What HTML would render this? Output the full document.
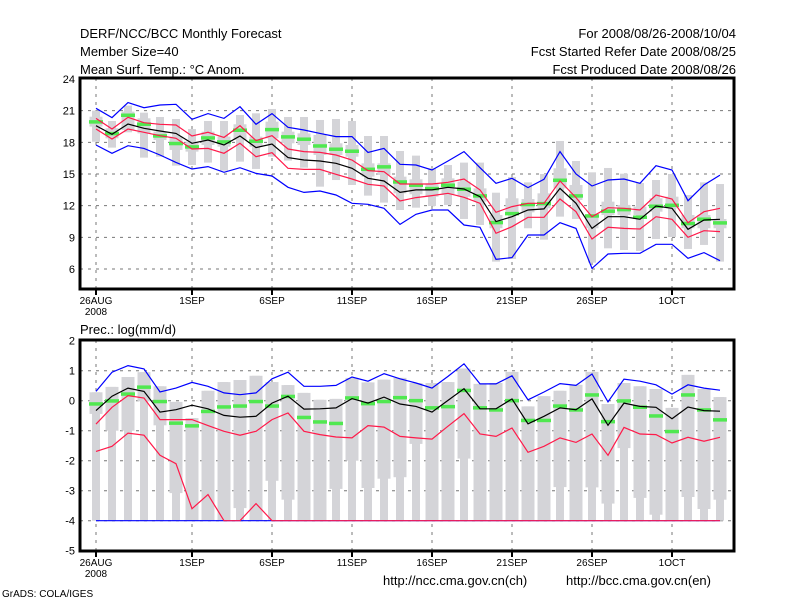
<!DOCTYPE html>
<html><head><meta charset="utf-8"><style>
body{margin:0;background:#fff;}
svg{display:block;font-family:"Liberation Sans",sans-serif;}
</style></head><body>
<svg id="c" width="800" height="600" xmlns="http://www.w3.org/2000/svg">
<rect width="800" height="600" fill="#fff"/>
<g font-size="13" fill="#000">
<text x="80" y="38">DERF/NCC/BCC Monthly Forecast</text>
<text x="80" y="56">Member Size=40</text>
<text x="80" y="74">Mean Surf. Temp.: °C Anom.</text>
<text x="736" y="38" text-anchor="end">For 2008/08/26-2008/10/04</text>
<text x="736" y="56" text-anchor="end">Fcst Started Refer Date 2008/08/25</text>
<text x="736" y="74" text-anchor="end">Fcst Produced Date 2008/08/26</text>
<text x="80" y="334">Prec.: log(mm/d)</text>
<text x="383" y="585">http://ncc.cma.gov.cn(ch)</text>
<text x="566" y="585">http://bcc.cma.gov.cn(en)</text>
<text x="2" y="597" font-size="10">GrADS: COLA/IGES</text>
</g>
<g id="top"></g>
<g id="bot"></g>
</svg>
<script>
const dayTicks = [0,6,11,16,21,26,31,36];
const dayLabels = ["26AUG","1SEP","6SEP","11SEP","16SEP","21SEP","26SEP","1OCT"];
const tTicks = [24,21,18,15,12,9,6];
const pTicks = [2,1,0,-1,-2,-3,-4,-5];

const tMax = [21.22,20.34,21.76,21.28,21.54,21.6,20.18,20.72,20.27,21.38,19.71,20.72,19.42,19.17,18.85,18.54,18.54,17.05,17.43,15.92,15.85,15.38,16.23,17.12,15.6,14.12,14.59,13.71,14.5,17.12,15.0,13.86,14.43,14.53,14.12,15.79,15.38,12.47,13.96,14.9];
const tMin = [17.75,16.96,17.68,17.43,16.8,16.1,15.47,15.7,15.16,15.6,15.06,14.81,13.74,13.26,13.39,13.01,12.22,12.13,11.75,10.23,11.18,11.59,11.59,10.17,9.95,6.92,7.08,9.22,9.22,10.39,9.85,6.06,7.42,7.49,7.49,8.34,8.34,7.01,7.55,6.79];
const tMean = [19.58,18.76,19.74,19.33,19.07,18.85,17.91,18.22,17.75,18.6,17.5,17.84,16.55,16.33,16.23,16.01,15.54,14.59,14.34,13.26,13.49,13.49,13.74,13.58,12.85,10.49,10.96,11.59,11.69,13.64,12.22,9.85,10.96,10.96,10.71,11.97,11.75,9.76,10.64,10.71];
const tUp = [20.27,19.26,20.37,19.86,19.71,19.64,18.6,18.95,18.47,19.58,18.16,18.63,17.37,17.12,17.05,16.8,16.33,15.32,15.22,14.05,14.05,14.05,14.21,14.53,13.49,11.37,11.91,12.22,12.22,14.34,12.76,10.96,11.81,11.75,11.59,13.01,12.63,10.39,11.43,11.75];
const tLo = [19.26,18.32,19.26,18.95,18.63,18.38,17.37,17.43,16.96,17.91,16.64,17.02,15.54,15.44,15.44,14.97,14.53,14.02,13.86,12.44,12.76,12.95,13.17,12.79,12.22,9.38,10.01,10.9,10.9,12.63,11.43,8.84,9.95,9.85,9.79,10.96,10.71,9.0,9.63,9.54];
const tMed = [19.96,18.85,20.59,19.74,18.63,17.91,17.59,18.44,18.06,19.17,18.13,19.23,18.54,18.32,17.68,17.37,17.18,15.47,15.7,14.27,13.96,13.64,13.96,13.58,12.95,10.42,11.27,12.13,12.22,14.43,12.95,11.05,11.5,11.65,10.93,11.97,12.06,10.33,10.74,10.39];
const tBoxMax = [21.0,20.02,21.48,20.81,20.4,20.21,19.26,20.02,20.02,20.59,20.75,21.16,20.4,20.4,20.12,20.21,20.02,18.6,18.6,17.18,16.74,15.54,15.85,16.08,16.08,13.23,14.72,14.21,15.0,18.13,16.23,15.16,15.57,15.03,14.15,14.43,15.0,13.01,14.21,14.05];
const tBoxQ3 = [20.43,19.33,20.91,20.28,19.01,18.54,18.06,19.01,18.54,19.71,18.54,19.96,19.01,18.85,18.7,17.91,17.75,16.01,16.01,14.75,14.5,14.12,14.59,14.28,13.64,11.12,12.7,12.63,13.17,15.54,13.96,10.96,12.38,12.07,11.91,12.7,12.85,11.12,11.12,10.74];
const tBoxQ1 = [19.49,18.38,19.17,18.85,18.22,17.28,17.12,17.75,17.59,18.22,17.59,18.38,17.91,17.75,16.8,16.8,16.64,14.75,14.91,13.17,13.08,12.85,13.01,12.85,12.38,9.86,11.12,11.37,11.75,13.64,12.54,9.86,11.12,11.12,11.12,11.43,11.75,9.86,9.86,9.86];
const tBoxMin = [18.06,17.5,18.95,16.55,16.64,15.79,15.85,16.08,15.32,16.17,15.48,16.64,16.27,15.6,13.8,14.43,13.96,12.95,12.29,11.59,11.81,11.97,12.07,10.74,10.17,6.7,6.95,9.86,8.78,10.96,10.74,6.6,7.96,7.8,7.71,8.84,9.03,7.9,8.28,6.7];

const pMax = [0.31,0.95,1.17,1.06,0.29,0.42,0.61,0.48,0.26,0.2,0.26,0.73,0.95,0.48,0.48,0.51,0.79,0.65,0.9,0.73,0.59,0.42,0.81,1.23,0.56,0.56,0.83,0.03,0.29,0.57,0.51,0.89,-0.04,0.72,0.65,0.53,0.22,0.53,0.42,0.35];
const pMin = [-4,-4,-4,-4,-4,-4,-4,-4,-4,-4,-4,-4,-4,-4,-4,-4,-4,-4,-4,-4,-4,-4,-4,-4,-4,-4,-4,-4,-4,-4,-4,-4,-4,-4,-4,-4,-4,-4,-4,-4];
const pMean = [-0.33,0.15,0.42,0.31,-0.38,-0.3,-0.15,-0.27,-0.49,-0.55,-0.52,-0.08,0.15,-0.28,-0.27,-0.24,0.07,-0.08,0.12,-0.11,-0.19,-0.38,0.01,0.4,-0.27,-0.27,0.06,-0.77,-0.52,-0.24,-0.3,0.06,-0.82,-0.08,-0.19,-0.22,-0.6,-0.21,-0.33,-0.35];
const pUp = [-0.78,-0.22,0.17,0.09,-0.63,-0.63,-0.63,-0.83,-1.02,-1.15,-1.02,-0.63,-0.41,-1.02,-1.13,-1.21,-1.24,-0.83,-0.88,-1.19,-1.24,-1.28,-0.85,-0.43,-1.11,-1.19,-0.91,-1.72,-1.52,-1.24,-1.39,-1.11,-1.82,-0.89,-1.11,-1.13,-1.41,-1.22,-1.35,-1.22];
const pLo = [-1.69,-1.52,-1.08,-1.15,-1.82,-2.1,-3.6,-3.13,-4,-4,-3.43,-4,-4,-4,-4,-4,-4,-4,-4,-4,-4,-4,-4,-4,-4,-4,-4,-4,-4,-4,-4,-4,-4,-4,-4,-4,-4,-4,-4,-4];
const pMed = [-0.1,0.0,0.23,0.46,-0.02,-0.74,-0.83,-0.35,-0.2,-0.17,-0.02,-0.17,0.15,-0.55,-0.7,-0.75,0.1,-0.09,-0.02,0.11,0.01,-0.23,-0.19,0.35,-0.23,-0.3,0.01,-0.65,-0.65,-0.17,-0.3,0.2,-0.69,0.0,-0.21,-0.5,-1.02,0.2,-0.3,-0.63];
const pBoxMax = [0.28,0.46,0.79,0.95,0.48,-0.04,-0.58,0.33,0.62,0.69,0.83,0.62,0.52,0.26,0.03,0.06,0.76,0.61,0.7,0.76,0.59,0.59,0.62,1.07,0.56,0.59,0.96,-0.19,0.15,0.33,0.53,0.96,-0.11,0.59,0.48,0.39,-0.24,0.86,0.39,0.12];
const pBoxQ1 = [-0.44,-1.0,-1.0,-0.02,-0.82,-3.08,-4,-4,-4,-3.58,-4,-2.67,-3.3,-4,-4,-2.94,-2.0,-2.91,-2.6,-2.55,-1.44,-4,-4,-1.93,-4,-4,-4,-4,-4,-2.88,-4,-2.89,-3.43,-1.58,-3.24,-3.8,-4,-3.21,-3.61,-3.3];
const pBoxMin = [-4,-4,-4,-4,-4,-4,-4,-4,-4,-4,-4,-4,-4,-4,-4,-4,-4,-4,-4,-4,-4,-4,-4,-4,-4,-4,-4,-4,-4,-4,-4,-4,-4,-4,-4,-4,-4,-4,-4,-4];

const NS = "http://www.w3.org/2000/svg";
const L = 80, R = 734;
function xS(i){ return 96 + 16*i; }
function yT(v){ return 79 + (24 - v) * 10.556; }
function yB(v){ return 400.7 - 30 * v; }
function mk(parent, tag, attrs){
  const e = document.createElementNS(NS, tag);
  for (const k in attrs) e.setAttribute(k, attrs[k]);
  parent.appendChild(e);
  return e;
}
function panel(g, top, bot, yS, ticks, vmin){
  ticks.forEach(t => {
    const y = yS(t);
    if (y > top + 2 && y < bot - 2) {
      const gl = mk(g, 'line', {x1:L, x2:R, y1:y, y2:y, stroke:'#777', 'stroke-dasharray':'3,5'});
      
      
    }
    const tl = mk(g, 'text', {x:L-5, y:y+4, 'text-anchor':'end', 'font-size':'11'});
    tl.textContent = t;
    
    
  });
  dayTicks.forEach((d, k) => {
    const x = xS(d);
    const gl = mk(g, 'line', {x1:x, x2:x, y1:top, y2:bot, stroke:'#777', 'stroke-dasharray':'3,5'});
    
    
    const tk = mk(g, 'line', {x1:x, x2:x, y1:bot, y2:bot+6, stroke:'#000', 'stroke-width':2});
    
    
    const tl = mk(g, 'text', {x:x, y:bot+15, 'text-anchor':'middle', 'font-size':'10'});
    tl.textContent = dayLabels[k];
    
    
    if (k === 0) {
      const yl = mk(g, 'text', {x:x, y:bot+26, 'text-anchor':'middle', 'font-size':'10'});
      yl.textContent = '2008';
      
      
    }
  });
}
function boxes(g, yS, bmax, q3, q1, bmin){
  for (let i = 0; i < bmax.length; i++) {
    const x = xS(i);
    const w = mk(g, 'rect', {x:x-4, y:yS(bmax[i]), width:8, height:Math.max(0, yS(bmin[i]) - yS(bmax[i])), fill:'#d4d4d8'});
    
    
    const b = mk(g, 'rect', {x:x-6.5, y:yS(q3[i]), width:13, height:Math.max(0, yS(q1[i]) - yS(q3[i])), fill:'#d4d4d8'});
    
    
  }
}
function marks(g, yS, arr){
  arr.forEach((v, i) => {
    const m = mk(g, 'rect', {x:xS(i)-7, y:yS(v)-1.5, width:14, height:3.5, fill:'#50e850'});
    
    
  });
}
function line(g, yS, arr, color, name){
  const p = mk(g, 'polyline', {points: arr.map((v, i) => xS(i) + ',' + yS(v).toFixed(1)).join(' '), fill:'none', stroke:color, 'stroke-width':1.2});
  
  
}
function frame(g, top, bot){
  const f = mk(g, 'rect', {x:L, y:top, width:R-L, height:bot-top, fill:'none', stroke:'#000', 'stroke-width':3});
  
  
}

const gt = document.getElementById('top');
panel(gt, 78, 289, yT, tTicks);
boxes(gt, yT, tBoxMax, tBoxQ3, tBoxQ1, tBoxMin);
marks(gt, yT, tMed);
line(gt, yT, tMax, '#0000ff', 'max-line');
line(gt, yT, tMin, '#0000ff', 'min-line');
line(gt, yT, tUp, '#ff1a4a', 'upper-std-line');
line(gt, yT, tLo, '#ff1a4a', 'lower-std-line');
line(gt, yT, tMean, '#000', 'mean-line');
frame(gt, 78, 289);

const gb = document.getElementById('bot');
panel(gb, 340, 551, yB, pTicks);
boxes(gb, yB, pBoxMax, pBoxMax, pBoxQ1, pBoxMin);
marks(gb, yB, pMed);
line(gb, yB, pMax, '#0000ff', 'max-line');
line(gb, yB, pMin, '#0000ff', 'min-line');
line(gb, yB, pUp, '#ff1a4a', 'upper-std-line');
line(gb, yB, pLo, '#ff1a4a', 'lower-std-line');
line(gb, yB, pMean, '#000', 'mean-line');
frame(gb, 340, 551);
</script>
</body></html>
